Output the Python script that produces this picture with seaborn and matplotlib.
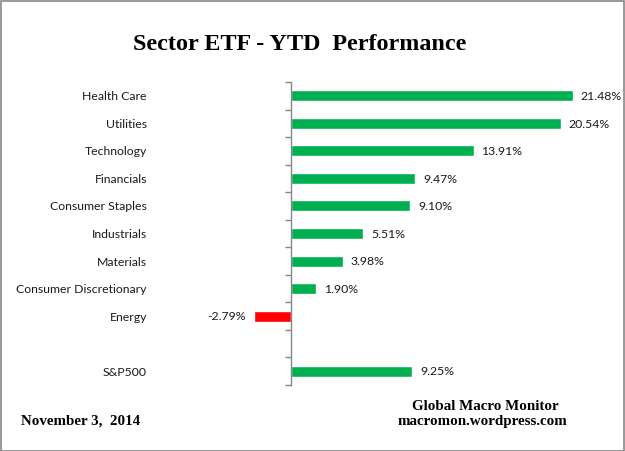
import matplotlib
matplotlib.use("Agg")
import matplotlib.pyplot as plt
import seaborn as sns
import pandas as pd
import numpy as np
from matplotlib.patches import Rectangle
from matplotlib.ticker import FixedLocator

sectors = ["Health Care", "Utilities", "Technology", "Financials", "Consumer Staples",
           "Industrials", "Materials", "Consumer Discretionary", "Energy", " ", "S&P500"]
values = [21.48, 20.54, 13.91, 9.47, 9.10, 5.51, 3.98, 1.90, -2.79, np.nan, 9.25]
labels = ["21.48%", "20.54%", "13.91%", "9.47%", "9.10%", "5.51%", "3.98%", "1.90%", "-2.79%", "", "9.25%"]

GREEN = "#00B050"
RED = "#FF0000"

df = pd.DataFrame({"sector": sectors, "value": values})
palette = {s: (RED if (v == v and v < 0) else GREEN) for s, v in zip(sectors, values)}

sns.set_theme(style="white")
plt.rcParams["font.family"] = ["Lato", "DejaVu Sans"]

W, H = 625, 451
fig = plt.figure(figsize=(W / 100, H / 100), dpi=100)
left_px, right_px, top_px, bot_px = 240, 615, 82, 385
ax = fig.add_axes([left_px / W, 1 - bot_px / H, (right_px - left_px) / W, (bot_px - top_px) / H])

sns.barplot(data=df, y="sector", x="value", hue="sector", palette=palette, order=sectors,
            hue_order=sectors, orient="h", width=0.4, legend=False, ax=ax, saturation=1)

scale = 282 / 21.48  # px per %
zero_px = 291
ax.set_xlim(-(zero_px - left_px) / scale, (right_px - zero_px) / scale)
ax.set_ylim(len(sectors) - 0.5, -0.5)

for i, (v, lab) in enumerate(zip(values, labels)):
    if v != v:
        continue
    if v >= 0:
        ax.annotate(lab, (v, i), xytext=(5.5, -0.5), textcoords="offset points",
                    ha="left", va="center", fontsize=8.8, color="#1a1a1a")
    else:
        ax.annotate(lab, (v, i), xytext=(-6.5, -0.5), textcoords="offset points",
                    ha="right", va="center", fontsize=8.8, color="#1a1a1a")

for s in ["top", "right", "bottom"]:
    ax.spines[s].set_visible(False)
ax.spines["left"].set_position(("data", 0))
ax.spines["left"].set_color("#868686")
ax.spines["left"].set_linewidth(1.0)
ax.set_xticks([])
ax.set_xlabel("")
ax.set_ylabel("")
ax.yaxis.set_minor_locator(FixedLocator(np.arange(-0.5, len(sectors), 1.0)))
ax.tick_params(axis="y", which="minor", length=4, width=1.0, color="#868686", direction="out", left=True)
ax.tick_params(axis="y", which="major", length=0, pad=(zero_px - 147) * 0.72, labelsize=8.8,
               labelcolor="#1a1a1a")
for t in ax.get_yticklabels():
    t.set_ha("right")

serif = ["Liberation Serif", "DejaVu Serif"]
fig.text(300 / W, 1 - 44 / H, "Sector ETF - YTD  Performance", ha="center", va="center",
         fontsize=17.4, fontweight="bold", family=serif, color="black")
fig.text(21 / W, 1 - 421 / H, "November 3,  2014", ha="left", va="center",
         fontsize=10.8, fontweight="bold", family=serif, color="black")
fig.text(485 / W, 1 - 406 / H, "Global Macro Monitor", ha="center", va="center",
         fontsize=10.8, fontweight="bold", family=serif, color="black")
fig.text(482 / W, 1 - 422 / H, "macromon.wordpress.com", ha="center", va="center",
         fontsize=10.8, fontweight="bold", family=serif, color="black")

fig.patches.append(Rectangle((0.5 / W, 0.5 / H), 1 - 1.5 / W, 1 - 1.5 / H, transform=fig.transFigure,
                             fill=False, edgecolor="#878787", linewidth=1.2))

fig.savefig("out.png", dpi=100, facecolor="white")
